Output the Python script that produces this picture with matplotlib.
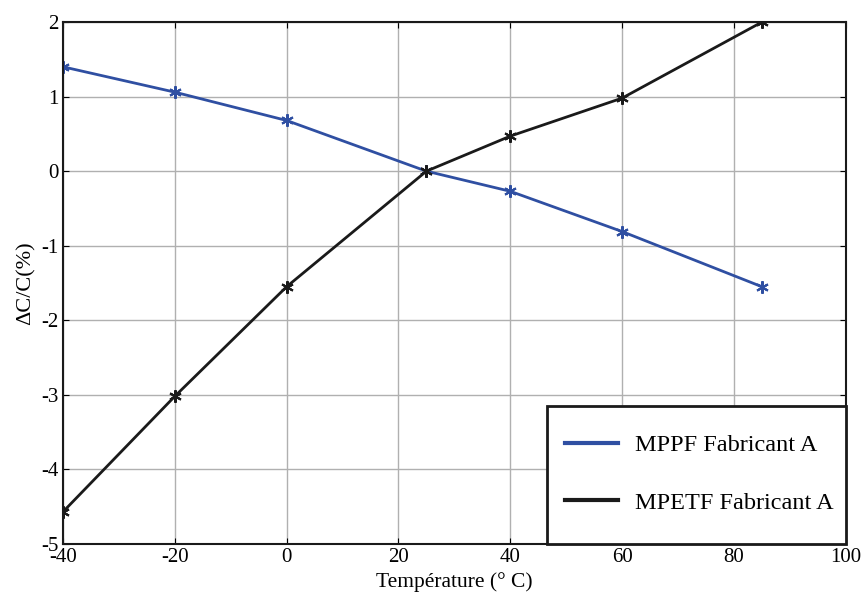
import matplotlib.pyplot as plt
from matplotlib.patches import Rectangle

temp = [-40, -20, 0, 25, 40, 60, 85]
mppf = [1.40, 1.06, 0.68, 0.0, -0.27, -0.81, -1.55]
mpetf = [-4.57, -3.02, -1.55, 0.0, 0.47, 0.98, 2.0]
xticks = [-40, -20, 0, 20, 40, 60, 80, 100]
yticks = [-5, -4, -3, -2, -1, 0, 1, 2]

plt.rcParams['font.family'] = ['Liberation Serif', 'DejaVu Serif']
plt.rcParams['axes.unicode_minus'] = False

fig = plt.figure(figsize=(8.63, 5.97), dpi=100)
ax = fig.add_axes([0.073, 0.089, 0.907, 0.874])

# MATLAB style asterisk markers
ast = (6, 2, 0)
ax.plot(temp, mppf, color='#2f4fa2', lw=2, marker=ast, ms=9, mew=1.5,
        label='MPPF Fabricant A')
ax.plot(temp, mpetf, color='#1a1a1a', lw=2, marker=ast, ms=9, mew=1.5,
        label='MPETF Fabricant A')

ax.set_xlim(-40, 100)
ax.set_ylim(-5, 2)
ax.set_xticks(xticks)
ax.set_yticks(yticks)
ax.grid(True, color='#b0b0b0', lw=1)
ax.tick_params(direction='in', top=True, right=True, labelsize=15, length=4, pad=3)
for s in ax.spines.values():
    s.set_linewidth(1.5)
    s.set_color('#1a1a1a')

ax.set_xlabel('Température (° C)', fontsize=15.5, labelpad=4)
ax.set_ylabel('ΔC/C(%)', fontsize=16, labelpad=4)

# legend box drawn separately so it can be taller than the default padding gives
box = Rectangle((0.618, 0), 0.382, 0.264, transform=ax.transAxes,
                facecolor='white', edgecolor='#1a1a1a', lw=2, zorder=4,
                clip_on=False)
ax.add_patch(box)
leg = ax.legend(loc='center left', bbox_to_anchor=(0.641, 0.134), frameon=False,
                borderpad=0, borderaxespad=0, fontsize=17.5, handlelength=2.2,
                labelspacing=1.45, handletextpad=0.7)
leg.set_zorder(6)
for h in leg.legend_handles:
    h.set_marker('')
    h.set_linewidth(3)

fig.savefig('out.png', dpi=100)
